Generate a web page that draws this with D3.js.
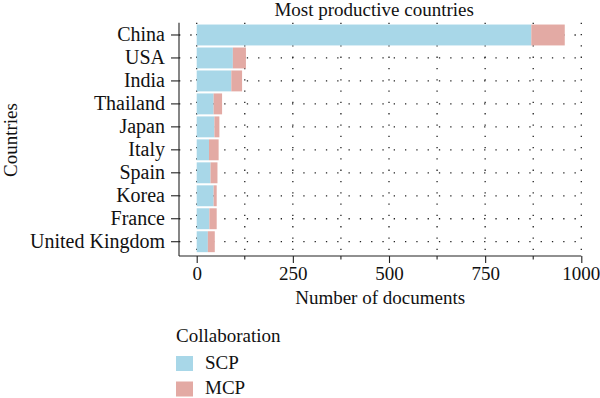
<!DOCTYPE html>
<html>
<head>
<meta charset="utf-8">
<script src="https://cdn.jsdelivr.net/npm/d3@7"></script>
<style>
  body { margin: 0; background: #fff; }
  svg { display: block; font-family: "Liberation Serif", "DejaVu Serif", serif; }
  .grid line { stroke: #222; stroke-width: 1.3; stroke-dasharray: 1.3 10; }
  .axis path, .axis line { stroke: #222; stroke-width: 1.1; }
  .axis text { fill: #111; font-size: 19px; font-family: "Liberation Serif", serif; }
  .axis.yaxis text { font-size: 20px; }
</style>
</head>
<body>
<svg id="chart" width="600" height="398"></svg>
<script>
const countries = ["China", "USA", "India", "Thailand", "Japan", "Italy", "Spain", "Korea", "France", "United Kingdom"];
const scp = [870, 94, 90, 44, 46, 32, 36, 44, 33, 29];
const mcp = [87, 34, 28, 22, 13, 25, 18, 8, 19, 18];
const xTicks = [0, 250, 500, 750, 1000];
const xMinor = [125, 375, 625, 875];
const seriesNames = ["SCP", "MCP"];
const colors = ["#a8d7e8", "#e3aaa4"];

const svg = d3.select("#chart");
const panelLeft = 179, panelRight = 581.3, panelTop = 22.7, panelBottom = 256;

const x = d3.scaleLinear().domain([0, 1000]).range([196.7, 581.3]);
const y = d3.scaleBand().domain(countries).range([23.5, 253.2]).paddingInner(0.09).paddingOuter(0.045);

// grid
const grid = svg.append("g").attr("class", "grid");
grid.selectAll(".h")
  .data(countries)
  .join("line")
  .attr("x1", panelLeft).attr("x2", panelRight)
  .attr("y1", (d) => y(d) + y.bandwidth() / 2)
  .attr("y2", (d) => y(d) + y.bandwidth() / 2);
grid.selectAll(".v")
  .data([...xTicks, ...xMinor])
  .join("line")
  .attr("x1", (d) => x(d)).attr("x2", (d) => x(d))
  .attr("y1", panelTop).attr("y2", panelBottom);

// stacked bars
const rows = countries.map((c, i) => ({ country: c, SCP: scp[i], MCP: mcp[i] }));
const stacked = d3.stack().keys(seriesNames)(rows);

svg.append("g")
  .selectAll("g")
  .data(stacked)
  .join("g")
  .attr("fill", (d, i) => colors[i])
  .selectAll("rect")
  .data((d) => d)
  .join("rect")
  .attr("x", (d) => x(d[0]))
  .attr("width", (d) => x(d[1]) - x(d[0]))
  .attr("y", (d) => y(d.data.country))
  .attr("height", y.bandwidth());

// axes
const xAxis = svg.append("g")
  .attr("class", "axis")
  .attr("transform", `translate(0,${panelBottom})`)
  .call(d3.axisBottom(x).tickValues(xTicks).tickFormat(d3.format("d")).tickSize(7).tickPadding(4).tickSizeOuter(0));
xAxis.select(".domain").attr("d", `M${panelLeft},0H${panelRight}`);
// last label sits against the right edge, as in the source
xAxis.selectAll(".tick text").filter((d) => d === 1000).attr("text-anchor", "end").attr("dx", 18.5);
xAxis.selectAll(".minor")
  .data(xMinor)
  .join("line")
  .attr("class", "minor")
  .attr("x1", (d) => x(d)).attr("x2", (d) => x(d))
  .attr("y1", 0).attr("y2", 3.5);

const yAxis = svg.append("g")
  .attr("class", "axis yaxis")
  .attr("transform", `translate(${panelLeft},0)`)
  .call(d3.axisLeft(y).tickSize(8).tickPadding(6).tickSizeOuter(0));
yAxis.select(".domain").attr("d", `M0,${panelTop}V${panelBottom}`);

// titles
svg.append("text")
  .attr("x", (panelLeft + panelRight) / 2 - 6).attr("y", 16)
  .attr("text-anchor", "middle")
  .attr("font-size", 19)
  .attr("fill", "#111")
  .text("Most productive countries");

svg.append("text")
  .attr("x", (panelLeft + panelRight) / 2).attr("y", 304)
  .attr("text-anchor", "middle")
  .attr("font-size", 19)
  .attr("fill", "#111")
  .text("Number of documents");

svg.append("text")
  .attr("transform", "translate(17,140) rotate(-90)")
  .attr("text-anchor", "middle")
  .attr("font-size", 19)
  .attr("fill", "#111")
  .text("Countries");

// legend
const legend = svg.append("g").attr("transform", "translate(176,0)");
legend.append("text")
  .attr("x", 0).attr("y", 342)
  .attr("font-size", 19)
  .attr("fill", "#111")
  .text("Collaboration");

const items = legend.selectAll(".item")
  .data(seriesNames)
  .join("g")
  .attr("transform", (d, i) => `translate(0,${356 + i * 25.5})`);
items.append("rect")
  .attr("width", 17).attr("height", 15)
  .attr("fill", (d, i) => colors[i]);
items.append("text")
  .attr("x", 29).attr("y", 12.5)
  .attr("font-size", 19)
  .attr("fill", "#111")
  .text((d) => d);
</script>
</body>
</html>
